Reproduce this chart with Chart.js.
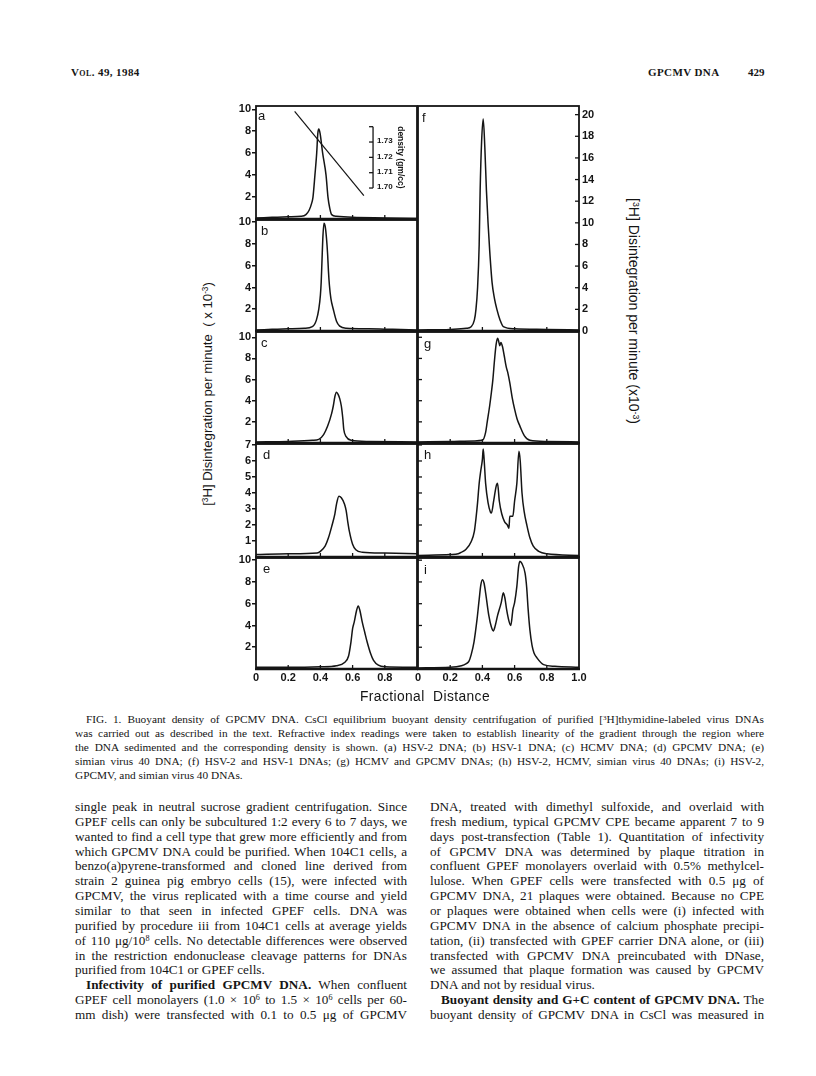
<!DOCTYPE html>
<html><head><meta charset="utf-8">
<script src="https://cdn.jsdelivr.net/npm/chart.js@4/dist/chart.umd.min.js"></script>
<style>
html,body{margin:0;padding:0;background:#fff;}
#page{position:relative;width:816px;height:1076px;overflow:hidden;background:#fff;color:#151515;}
.t{position:absolute;white-space:nowrap;line-height:1;}
canvas{position:absolute;}
.serif{font-family:"Liberation Serif","Times New Roman",serif;}
.sans{font-family:"Liberation Sans",Arial,sans-serif;}
sup{font-size:0.62em;vertical-align:0.5em;line-height:0;}
.rot{transform:translate(-50%,-50%) rotate(-90deg);}
.rotR{transform:translate(-50%,-50%) rotate(90deg);}
.lbl{font-family:"Liberation Sans",Arial,sans-serif;font-size:13px;transform:translateY(-50%);}
</style></head>
<body><div id="page"></div>
<script>
// ---------------- data ----------------
const X_TICKS_INNER = [0.2, 0.4, 0.6, 0.8];
const X_LABELS_E = [0, 0.2, 0.4, 0.6, 0.8];
const X_LABELS_I = [0, 0.2, 0.4, 0.6, 0.8, 1.0];
const Y_TICKS_10 = [2, 4, 6, 8, 10];
const Y_TICKS_7 = [1, 2, 3, 4, 5, 6, 7];
const Y_TICKS_20 = [0, 2, 4, 6, 8, 10, 12, 14, 16, 18, 20];
const DENS_TICKS = [1.70, 1.71, 1.72, 1.73, 1.74];
const DENS_LABELS = ['1.70', '1.71', '1.72', '1.73', ''];
const densX = [0.24, 0.67];
const densY = [1.750, 1.695];

const aX = [0,0.1,0.2,0.28,0.31,0.33,0.345,0.354,0.366,0.377,0.384,0.39,0.398,0.414,0.435,0.447,0.458,0.47,0.5,0.6,0.8,1.0];
const aY = [0.1,0.15,0.2,0.25,0.4,0.8,1.4,2.0,4.0,6.0,7.8,8.2,7.8,6.0,4.0,2.0,1.0,0.4,0.25,0.15,0.1,0.05];

const bX = [0,0.1,0.2,0.3,0.35,0.375,0.39,0.40,0.405,0.41,0.415,0.422,0.43,0.438,0.445,0.45,0.456,0.465,0.48,0.5,0.52,0.56,0.7,0.85,1.0];
const bY = [0.1,0.15,0.2,0.25,0.4,1.0,2.0,3.3,4.5,6.5,8.5,9.9,9.6,8.5,7.0,5.5,4.2,3.0,2.0,0.9,0.45,0.25,0.2,0.15,0.1];

const cX = [0,0.2,0.35,0.39,0.42,0.445,0.47,0.48,0.49,0.50,0.51,0.52,0.53,0.54,0.545,0.56,0.59,0.7,1.0];
const cY = [0.1,0.15,0.25,0.35,0.8,1.6,2.8,3.5,4.4,4.8,4.6,4.2,3.5,2.2,1.3,0.6,0.25,0.15,0.1];

const dX = [0,0.2,0.38,0.40,0.43,0.45,0.47,0.49,0.50,0.515,0.53,0.55,0.56,0.57,0.58,0.60,0.62,0.66,0.8,1.0];
const dY = [0.15,0.2,0.25,0.35,0.7,1.2,1.9,2.7,3.3,3.8,3.7,3.3,2.9,2.2,1.6,0.8,0.45,0.3,0.25,0.2];

const eX = [0,0.2,0.4,0.5,0.55,0.575,0.59,0.60,0.61,0.625,0.635,0.645,0.66,0.675,0.69,0.71,0.73,0.76,0.8,1.0];
const eY = [0.15,0.15,0.2,0.3,0.6,1.2,2.5,3.7,4.3,5.4,5.8,5.4,4.3,3.4,2.5,1.5,0.8,0.35,0.2,0.15];

const fX = [0,0.2,0.3,0.33,0.35,0.36,0.37,0.38,0.386,0.395,0.405,0.415,0.425,0.435,0.445,0.46,0.475,0.49,0.51,0.53,0.6,0.8,1.0];
const fY = [0.1,0.15,0.25,0.4,1,2,4,8,13,17.5,19.6,17,13,10,7.5,4.5,3,2,1,0.4,0.2,0.15,0.1];

const gX = [0,0.2,0.35,0.40,0.42,0.43,0.445,0.456,0.465,0.475,0.485,0.494,0.50,0.508,0.515,0.525,0.535,0.548,0.557,0.57,0.585,0.6,0.615,0.633,0.66,0.695,0.8,1.0];
const gY = [0.1,0.15,0.2,0.25,1,2,3.5,4.8,6,7.8,9.3,9.9,9.7,9.2,9.5,9.1,8.3,7.2,6.7,5.7,4.3,3.2,2.3,1.6,0.7,0.25,0.15,0.1];

const hX = [0,0.2,0.25,0.27,0.30,0.33,0.35,0.36,0.37,0.38,0.39,0.40,0.405,0.41,0.42,0.435,0.45,0.456,0.47,0.485,0.494,0.505,0.52,0.538,0.555,0.565,0.57,0.589,0.60,0.614,0.627,0.635,0.646,0.66,0.677,0.695,0.715,0.75,0.8,1.0];
const hY = [0.1,0.15,0.2,0.3,0.5,0.95,1.6,2.4,3.4,4.6,5.4,6.1,6.75,6.2,4.6,3.4,2.8,2.75,3.5,4.4,4.6,3.5,2.7,2.2,2.0,1.8,2.55,2.55,3.5,4.6,6.6,6.0,4.0,2.8,1.95,1.2,0.7,0.35,0.2,0.1];

const iX = [0,0.2,0.27,0.30,0.316,0.33,0.348,0.367,0.38,0.39,0.40,0.41,0.42,0.44,0.455,0.468,0.48,0.494,0.517,0.53,0.54,0.55,0.565,0.576,0.59,0.60,0.614,0.625,0.633,0.645,0.665,0.675,0.684,0.695,0.708,0.72,0.74,0.78,0.85,1.0];
const iY = [0.1,0.15,0.3,0.5,0.7,1.3,2.5,4.6,6.4,7.7,8.2,7.9,7.0,4.9,3.9,3.5,4.0,4.9,6.1,7.0,6.5,5.5,4.4,4.0,5.5,6.1,7.6,9.4,9.9,9.7,8.8,7.5,5.5,3.6,2.2,1.5,1.0,0.4,0.25,0.15];

// ---------------- layout ----------------
const page = document.getElementById('page');
const INK = '#151515';
function pts(xs, ys){ return xs.map((x,i)=>({x:x, y:ys[i]})); }

const panels = [
  {id:'a', xs:aX, ys:aY, l:256, t:106, r:417, b:219, ymax:10.3, yt:Y_TICKS_10, side:'left', dens:true},
  {id:'b', xs:bX, ys:bY, l:256, t:220, r:417, b:331, ymax:10.2, yt:Y_TICKS_10, side:'left'},
  {id:'c', xs:cX, ys:cY, l:256, t:332, r:417, b:443, ymax:10.5, yt:Y_TICKS_10, side:'left'},
  {id:'d', xs:dX, ys:dY, l:256, t:444, r:417, b:557, ymax:7.06, yt:Y_TICKS_7, side:'left'},
  {id:'e', xs:eX, ys:eY, l:256, t:558, r:417, b:669, ymax:10.2, yt:Y_TICKS_10, side:'left', xl:X_LABELS_E},
  {id:'f', xs:fX, ys:fY, l:418, t:106, r:579, b:331, ymax:20.8, yt:Y_TICKS_20, side:'right'},
  {id:'g', xs:gX, ys:gY, l:418, t:332, r:579, b:443, ymax:10.5, yt:Y_TICKS_10, side:'inner'},
  {id:'h', xs:hX, ys:hY, l:418, t:444, r:579, b:557, ymax:7.06, yt:Y_TICKS_7, side:'inner'},
  {id:'i', xs:iX, ys:iY, l:418, t:558, r:579, b:669, ymax:10.2, yt:Y_TICKS_10, side:'inner', xl:X_LABELS_I}
];

function seg(ctx,x1,y1,x2,y2){ctx.beginPath();ctx.moveTo(x1,y1);ctx.lineTo(x2,y2);ctx.stroke();}

const framePlugin = {
  id: 'frame',
  afterDatasetsDraw(chart, args, o) {
    const ctx = chart.ctx, A = chart.chartArea;
    const xs = chart.scales.x, ys = chart.scales.y;
    ctx.save();
    ctx.strokeStyle = INK; ctx.fillStyle = INK; ctx.lineCap = 'butt';
    ctx.lineWidth = 1.8;
    ctx.strokeRect(A.left, A.top, A.right - A.left, A.bottom - A.top);
    ctx.lineWidth = 2.7;
    seg(ctx, A.left - 1, A.bottom, A.right + 1, A.bottom);
    ctx.lineWidth = 1.3;
    X_TICKS_INNER.forEach(v => { const px = xs.getPixelForValue(v); seg(ctx, px, A.bottom, px, A.bottom - 4); });
    if (o.inner) {
      o.ticks.forEach(v => {
        const py = ys.getPixelForValue(v);
        if (o.inner === 'left') seg(ctx, A.left, py, A.left + 4, py);
        else seg(ctx, A.right, py, A.right - 4, py);
      });
    }
    if (o.dens) {
      const yd = chart.scales.yd;
      const bx = xs.getPixelForValue(0.727);
      const yTop = yd.getPixelForValue(DENS_TICKS[DENS_TICKS.length - 1]);
      const yBot = yd.getPixelForValue(DENS_TICKS[0]);
      ctx.lineWidth = 1.3;
      seg(ctx, bx, yTop, bx, yBot);
      ctx.font = 'bold 8px "Liberation Sans", Arial, sans-serif';
      ctx.textAlign = 'left'; ctx.textBaseline = 'middle';
      DENS_TICKS.forEach((v, i) => {
        const py = yd.getPixelForValue(v);
        seg(ctx, bx - 4, py, bx, py);
        if (DENS_LABELS[i]) ctx.fillText(DENS_LABELS[i], bx + 4, py - 1);
      });
      ctx.save();
      ctx.translate(xs.getPixelForValue(0.894), (yTop + yBot) / 2);
      ctx.rotate(Math.PI / 2);
      ctx.textAlign = 'center';
      ctx.font = 'bold 8.5px "Liberation Sans", Arial, sans-serif';
      ctx.fillText('density (gm/cc)', 0, 0);
      ctx.restore();
    }
    ctx.restore();
  }
};

const tickFont = {family: '"Liberation Sans", Arial, sans-serif', size: 11, weight: 'bold'};

panels.forEach(p => {
  const padL = p.side === 'left' ? 34 : (p.xl ? 8 : 3);
  const padR = p.side === 'right' ? 28 : (p.xl && p.side === 'inner' ? 10 : 3);
  const padT = 6, padB = p.xl ? 17 : 4;
  const W = p.r - p.l + padL + padR, H = p.b - p.t + padT + padB;
  const cv = document.createElement('canvas');
  cv.width = W; cv.height = H;
  cv.style.left = (p.l - padL) + 'px'; cv.style.top = (p.t - padT) + 'px';
  cv.style.width = W + 'px'; cv.style.height = H + 'px';
  page.appendChild(cv);

  const datasets = [{
    data: pts(p.xs, p.ys), borderColor: INK, borderWidth: 1.5, pointRadius: 0,
    fill: false, cubicInterpolationMode: 'monotone', yAxisID: 'y'
  }];
  const scales = {
    x: {
      type: 'linear', min: 0, max: 1, position: 'bottom',
      afterBuildTicks: s => { s.ticks = (p.xl || X_TICKS_INNER).map(v => ({value: v})); },
      afterFit: s => { s.height = p.xl ? padB : 0; s.paddingLeft = 0; s.paddingRight = 0; },
      ticks: {display: !!p.xl, color: INK, font: tickFont, padding: 2, maxRotation: 0, autoSkip: false,
              callback: v => v === 0 ? '0' : Number(v).toFixed(1)},
      grid: {display: false, drawTicks: false}, border: {display: false}
    },
    y: {
      type: 'linear', min: 0, max: p.ymax, position: p.side === 'right' ? 'right' : 'left',
      afterBuildTicks: s => { s.ticks = p.yt.map(v => ({value: v})); },
      afterFit: s => { s.width = p.side === 'left' ? padL : (p.side === 'right' ? padR : 0); s.paddingTop = 0; s.paddingBottom = 0; },
      ticks: {display: p.side !== 'inner', color: INK, font: tickFont,
              padding: p.side === 'right' ? 3 : 1, autoSkip: false},
      grid: {display: p.side === 'left', drawOnChartArea: false, drawTicks: p.side === 'left', tickLength: 4,
             color: INK, lineWidth: 1.5},
      border: {display: false}
    }
  };
  if (p.dens) {
    scales.yd = {type: 'linear', min: 1.6798, max: 1.7535, display: false};
    datasets.push({data: pts(densX, densY), borderColor: INK, borderWidth: 1.2, pointRadius: 0,
                   fill: false, tension: 0, yAxisID: 'yd'});
  }
  new Chart(cv, {
    type: 'line',
    data: {datasets},
    options: {
      responsive: false, animation: false, devicePixelRatio: window.devicePixelRatio || 1,
      layout: {padding: {left: p.side === 'left' ? 0 : padL, right: p.side === 'right' ? 0 : padR,
                         top: padT, bottom: p.xl ? 0 : padB}},
      scales,
      plugins: {legend: {display: false}, tooltip: {enabled: false},
                frame: {inner: p.side === 'inner' ? 'left' : (p.side === 'right' ? 'right' : null),
                        ticks: p.yt, dens: !!p.dens}}
    },
    plugins: [framePlugin]
  });
});

// ---------------- text ----------------
function addText(html, x, y, cls, style){
  const d = document.createElement('div');
  d.className = 't ' + (cls || '');
  d.innerHTML = html;
  d.style.left = x + 'px'; d.style.top = y + 'px';
  if (style) Object.assign(d.style, style);
  page.appendChild(d);
  return d;
}

// panel letters
[['a',258,115],['b',261,230],['c',261,342],['d',263,454],['e',263,568],
 ['f',422,117],['g',424,343],['h',424,454],['i',424,569]].forEach(L => addText(L[0], L[1], L[2], 'lbl'));

// axis titles
addText('[<sup>3</sup>H] Disintegration per minute&nbsp; ( x 10<sup>-3</sup>)', 208, 394, 'sans rot', {fontSize:'13.2px'});
addText('[<sup>3</sup>H] Disintegration per minute (x10<sup>-3</sup>)', 634, 311, 'sans rotR', {fontSize:'14px'});
addText('Fractional&nbsp; Distance', 425, 697, 'sans', {fontSize:'13.8px', transform:'translate(-50%,-50%)', letterSpacing:'0.4px'});

// running head
addText('Vol. 49, 1984', 71, 72, 'serif', {fontSize:'11px', fontVariant:'small-caps', fontWeight:'bold', transform:'translateY(-50%)', letterSpacing:'0.4px'});
addText('GPCMV DNA', 648, 72, 'serif', {fontSize:'11px', fontWeight:'bold', transform:'translateY(-50%)', letterSpacing:'0.4px'});
addText('429', 748, 72, 'serif', {fontSize:'11px', fontWeight:'bold', transform:'translateY(-50%)'});

const justified = [];
function addLines(lines, x, w, y0, dy, size){
  lines.forEach((ln, k) => {
    const ind = ln.ind || 0;
    const d = addText(ln.h, x + ind, y0 + k * dy, 'serif', {fontSize: size + 'px', transform: 'translateY(-50%)'});
    if (!ln.last) justified.push([d, w - ind]);
  });
}

const CAPTION = [
  {ind:11, h:'FIG. 1. Buoyant density of GPCMV DNA. CsCl equilibrium buoyant density centrifugation of purified [<sup>3</sup>H]thymidine-labeled virus DNAs'},
  {h:'was carried out as described in the text. Refractive index readings were taken to establish linearity of the gradient through the region where'},
  {h:'the DNA sedimented and the corresponding density is shown. (a) HSV-2 DNA; (b) HSV-1 DNA; (c) HCMV DNA; (d) GPCMV DNA; (e)'},
  {h:'simian virus 40 DNA; (f) HSV-2 and HSV-1 DNAs; (g) HCMV and GPCMV DNAs; (h) HSV-2, HCMV, simian virus 40 DNAs; (i) HSV-2,'},
  {h:'GPCMV, and simian virus 40 DNAs.', last:true}
];
addLines(CAPTION, 75, 689, 720, 14, 11.3);

const BODY_L = [
  {h:'single peak in neutral sucrose gradient centrifugation. Since'},
  {h:'GPEF cells can only be subcultured 1:2 every 6 to 7 days, we'},
  {h:'wanted to find a cell type that grew more efficiently and from'},
  {h:'which GPCMV DNA could be purified. When 104C1 cells, a'},
  {h:'benzo(a)pyrene-transformed and cloned line derived from'},
  {h:'strain 2 guinea pig embryo cells (15), were infected with'},
  {h:'GPCMV, the virus replicated with a time course and yield'},
  {h:'similar to that seen in infected GPEF cells. DNA was'},
  {h:'purified by procedure iii from 104C1 cells at average yields'},
  {h:'of 110 \u03bcg/10<sup>8</sup> cells. No detectable differences were observed'},
  {h:'in the restriction endonuclease cleavage patterns for DNAs'},
  {h:'purified from 104C1 or GPEF cells.', last:true},
  {ind:11, h:'<b>Infectivity of purified GPCMV DNA.</b> When confluent'},
  {h:'GPEF cell monolayers (1.0 \u00d7 10<sup>6</sup> to 1.5 \u00d7 10<sup>6</sup> cells per 60-'},
  {h:'mm dish) were transfected with 0.1 to 0.5 \u03bcg of GPCMV'}
];
const BODY_R = [
  {h:'DNA, treated with dimethyl sulfoxide, and overlaid with'},
  {h:'fresh medium, typical GPCMV CPE became apparent 7 to 9'},
  {h:'days post-transfection (Table 1). Quantitation of infectivity'},
  {h:'of GPCMV DNA was determined by plaque titration in'},
  {h:'confluent GPEF monolayers overlaid with 0.5% methylcel-'},
  {h:'lulose. When GPEF cells were transfected with 0.5 \u03bcg of'},
  {h:'GPCMV DNA, 21 plaques were obtained. Because no CPE'},
  {h:'or plaques were obtained when cells were (i) infected with'},
  {h:'GPCMV DNA in the absence of calcium phosphate precipi-'},
  {h:'tation, (ii) transfected with GPEF carrier DNA alone, or (iii)'},
  {h:'transfected with GPCMV DNA preincubated with DNase,'},
  {h:'we assumed that plaque formation was caused by GPCMV'},
  {h:'DNA and not by residual virus.', last:true},
  {ind:11, h:'<b>Buoyant density and G+C content of GPCMV DNA.</b> The'},
  {h:'buoyant density of GPCMV DNA in CsCl was measured in'}
];
addLines(BODY_L, 75, 332, 807, 14.85, 13.2);
addLines(BODY_R, 430, 334, 807, 14.85, 13.2);

function justify(){
  justified.forEach(([d, w]) => {
    d.style.wordSpacing = '0px';
    const nat = d.getBoundingClientRect().width;
    const n = (d.textContent.match(/ /g) || []).length;
    if (n) d.style.wordSpacing = ((w - nat) / n) + 'px';
  });
}
justify();
if (document.fonts && document.fonts.ready) document.fonts.ready.then(justify);
</script>
</body></html>
